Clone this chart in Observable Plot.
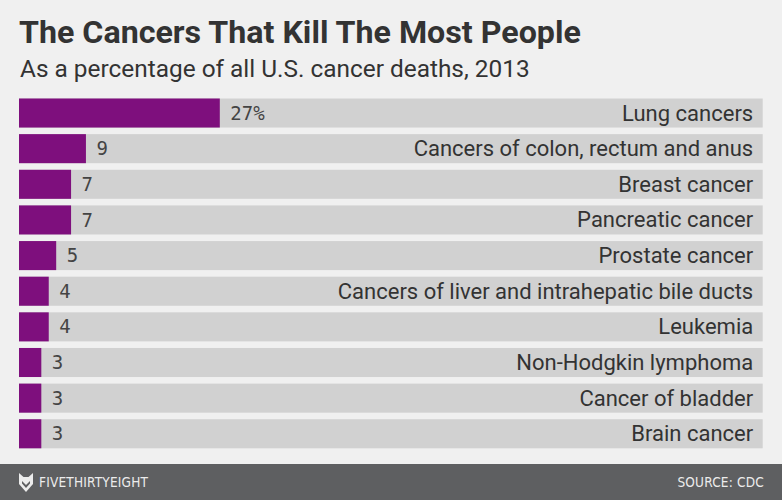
<!DOCTYPE html>
<html>
<head>
<meta charset="utf-8">
<script src="https://cdn.jsdelivr.net/npm/d3@7"></script>
<script src="https://cdn.jsdelivr.net/npm/@observablehq/plot@0.6"></script>
<style>
  html, body { margin: 0; padding: 0; background: #f0f0f0; }
  #wrap { width: 782px; height: 500px; position: relative; overflow: hidden; background: #f0f0f0; }
  #header { position: relative; height: 92px; }
  #title { position: absolute; left: 19px; top: 15.8px; font: 700 32.2px/32.2px Roboto, sans-serif; color: #333; white-space: nowrap; }
  #subtitle { position: absolute; left: 20px; top: 56.5px; font: 400 24.4px/24.4px Roboto, sans-serif; color: #333; white-space: nowrap; }
  #chart svg { display: block; }
  #footer { position: absolute; left: 0; top: 464px; width: 782px; height: 36px; background: #5e5f61;
            display: flex; align-items: center; justify-content: space-between; box-sizing: border-box; padding: 0 18px 0 19px;
            font: 400 13.5px "DejaVu Sans Condensed", sans-serif; color: #ececec; letter-spacing: 0.2px; }
  #brand { display: flex; align-items: center; gap: 6px; }
</style>
</head>
<body>
<div id="wrap">
  <div id="header">
    <div id="title">The Cancers That Kill The Most People</div>
    <div id="subtitle">As a percentage of all U.S. cancer deaths, 2013</div>
  </div>
  <div id="chart"></div>
  <div id="footer">
    <div id="brand">
      <svg width="14" height="19" viewBox="0 0 14 19">
        <path d="M0,0 L4.5,4 L9.5,4 L14,0 L14,11 L7,19 L0,11 Z" fill="#ececec"/>
        <path d="M3,8 L7,12 L11,8 L11,10.5 L7,15 L3,10.5 Z" fill="#5e5f61"/>
      </svg>
      <span>FIVETHIRTYEIGHT</span>
    </div>
    <div>SOURCE: CDC</div>
  </div>
</div>
<script>
const categories = [
  "Lung cancers",
  "Cancers of colon, rectum and anus",
  "Breast cancer",
  "Pancreatic cancer",
  "Prostate cancer",
  "Cancers of liver and intrahepatic bile ducts",
  "Leukemia",
  "Non-Hodgkin lymphoma",
  "Cancer of bladder",
  "Brain cancer"
];
const values = [27, 9, 7, 7, 5, 4, 4, 3, 3, 3];
const valueLabels = ["27%", "9", "7", "7", "5", "4", "4", "3", "3", "3"];
const trackMax = 100;

const data = categories.map((c, i) => ({category: c, value: values[i], label: valueLabels[i]}));

const chart = Plot.plot({
  width: 782,
  height: 372,
  marginTop: 6.5,
  marginBottom: 15.7,
  marginLeft: 19,
  marginRight: 19.3,
  style: {background: "transparent", overflow: "visible"},
  x: {domain: [0, trackMax], axis: null},
  y: {domain: categories, axis: null, paddingInner: 0.185, paddingOuter: 0, round: false},
  marks: [
    Plot.barX(data, {y: "category", x1: 0, x2: trackMax, fill: "#d1d1d1"}),
    Plot.barX(data, {y: "category", x1: 0, x2: "value", fill: "#7e0f7d"}),
    Plot.text(data, {y: "category", x: "value", text: "label", dx: 10, textAnchor: "start",
      fill: "#444", fontSize: 19, fontFamily: "DejaVu Sans Mono"}),
    Plot.text(data, {y: "category", x: trackMax, text: "category", dx: -10, textAnchor: "end",
      fill: "#333", fontSize: 22, fontFamily: "Roboto"})
  ]
});
document.getElementById("chart").appendChild(chart);
</script>
</body>
</html>
